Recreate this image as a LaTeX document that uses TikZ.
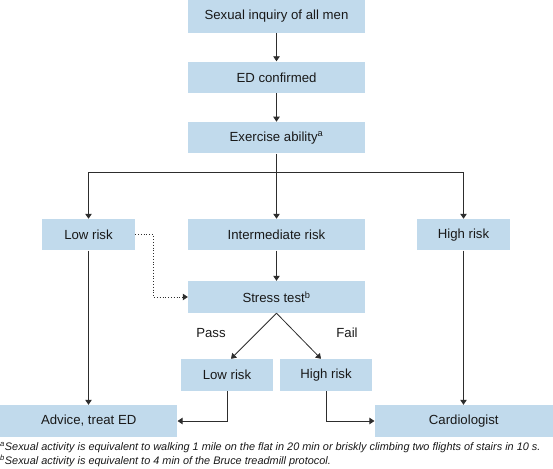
\documentclass[tikz,border=0pt]{standalone}
\usepackage{fontspec}
\setmainfont{Liberation Sans}
\usepackage{xcolor}
\usetikzlibrary{arrows.meta,positioning}
\definecolor{boxblue}{RGB}{193,218,236}
\definecolor{linegray}{RGB}{45,45,45}

\begin{document}
\begin{tikzpicture}[x=1pt,y=-1pt,
  every node/.style={font=\fontsize{13.2}{15}\selectfont,text=black!90},
  box/.style={fill=boxblue,inner sep=0pt,minimum height=31.5pt},
  arr/.style={draw=linegray,line width=0.8pt,-{Triangle[length=5pt,width=6.5pt]}},
  dotarr/.style={arr,dotted},
  fnote/.style={font=\fontsize{10.9}{13}\selectfont\itshape,anchor=west,inner sep=0pt}]
  \useasboundingbox (0,0) rectangle (553,468);
  \node[box,minimum width=177pt,minimum height=32.7pt] (inquiry) at (276.5,16.35) {Sexual inquiry of all men};
  \node[box,minimum width=177pt] (edconf) at (276.5,77.3) {ED confirmed};
  \node[box,minimum width=177pt] (exer) at (276.5,137.6) {Exercise ability\textsuperscript{a}};
  \node[box,minimum width=93pt] (lowA) at (88.5,234.7) {Low risk};
  \node[box,minimum width=177pt] (inter) at (276.5,234.7) {Intermediate risk};
  \node[box,minimum width=93pt] (highA) at (463.5,234.7) {High risk};
  \node[box,minimum width=177pt,minimum height=32pt] (stress) at (276.5,297) {Stress test\textsuperscript{b}};
  \node (pass) at (211,333) {Pass};
  \node (fail) at (347,333) {Fail};
  \node[box,minimum width=92pt,minimum height=32pt] (lowB) at (227,375) {Low risk};
  \node[box,minimum width=92pt,minimum height=32pt] (highB) at (326,375) {High risk};
  \node[box,minimum width=177.4pt,minimum height=32pt] (advice) at (88.7,421) {Advice, treat ED};
  \node[box,minimum width=178.4pt,minimum height=32pt] (cardio) at (463.8,421) {Cardiologist};
  \node[fnote] (fna) at (0,448) {\textsuperscript{a}Sexual activity is equivalent to walking 1 mile on the flat in 20 min or briskly climbing two flights of stairs in 10 s.};
  \node[fnote] (fnb) at (0,461) {\textsuperscript{b}Sexual activity is equivalent to 4 min of the Bruce treadmill protocol.};
  % main flow
  \draw[arr] (inquiry) -- (edconf);
  \draw[arr] (edconf) -- (exer);
  \draw[arr] (exer) -- (inter);
  \coordinate (split) at (276.5,172.3);
  \draw[arr] (split) -| (lowA.north);
  \draw[arr] (split) -| (highA.north);
  \draw[arr] (inter) -- (stress);
  \draw[dotarr] (lowA.east) -- ++(18,0) |- (stress.west);
  % stress test outcome
  \draw[arr] (stress.south) -- ([xshift=4pt]lowB.north);
  \draw[arr] (stress.south) -- ([xshift=-5pt]highB.north);
  \draw[arr] (lowA.south) -- (lowA.south |- advice.north);
  \draw[arr] (highA.south) -- (highA.south |- cardio.north);
  \draw[arr] (lowB.south) |- (advice.east);
  \draw[arr] (highB.south) |- (cardio.west);
\end{tikzpicture}
\end{document}
